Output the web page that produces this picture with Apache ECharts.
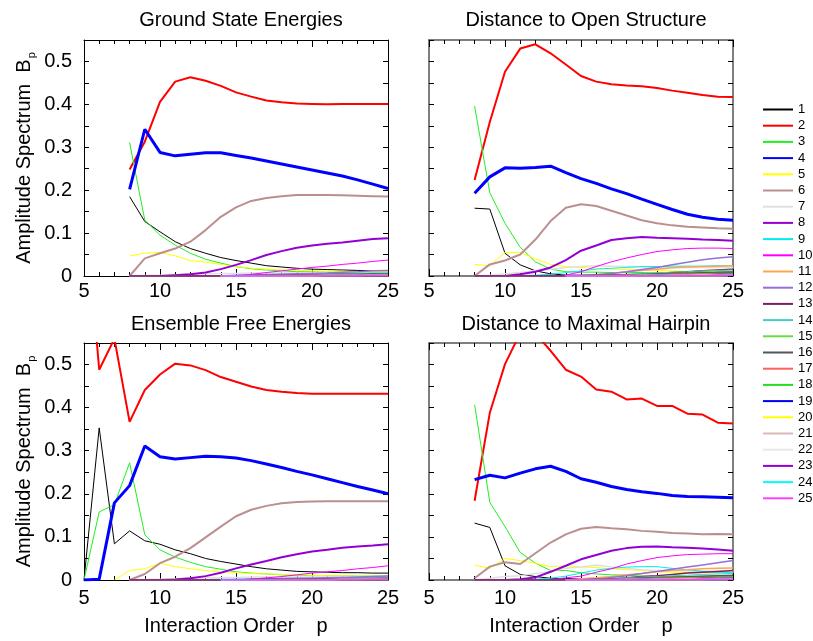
<!DOCTYPE html>
<html lang="en">
<head>
<meta charset="UTF-8">
<title>Amplitude Spectrum</title>
<style>
  body { margin: 0; background: #fff; }
  #chart { width: 813px; height: 641px; }
</style>
<script src="https://cdn.jsdelivr.net/npm/echarts@6/dist/echarts.min.js"></script>
</head>
<body>
<div id="chart"></div>
<script type="text/javascript">
// every row ends at p = 25; its first value sits at p = 25 - length + 1
var seriesNames = ['1','2','3','4','5','6','7','8','9','10','11','12','13','14','15','16','17','18','19','20','21','22','23','24','25'];
var panelTitles = ['Ground State Energies', 'Distance to Open Structure', 'Ensemble Free Energies', 'Distance to Maximal Hairpin'];

// Ground State Energies, p = 8..25 (rows 14-25 from p = 14)
var groundState = [
  [0.185,0.127,0.103,0.080,0.064,0.053,0.043,0.036,0.030,0.024,0.021,0.018,0.016,0.015,0.014,0.013,0.012,0.012],
  [0.248,0.313,0.406,0.453,0.463,0.455,0.443,0.428,0.418,0.409,0.405,0.402,0.401,0.400,0.401,0.401,0.401,0.401],
  [0.311,0.130,0.095,0.072,0.053,0.039,0.030,0.022,0.017,0.014,0.012,0.010,0.010,0.009,0.009,0.008,0.008,0.008],
  [0.202,0.342,0.288,0.280,0.284,0.287,0.287,0.281,0.275,0.268,0.261,0.254,0.247,0.240,0.233,0.224,0.214,0.204],
  [0.047,0.053,0.055,0.047,0.036,0.032,0.027,0.022,0.018,0.016,0.014,0.013,0.012,0.011,0.011,0.010,0.010,0.010],
  [0.000,0.041,0.053,0.064,0.080,0.107,0.138,0.160,0.175,0.182,0.186,0.189,0.189,0.189,0.188,0.187,0.186,0.185],
  [0,0.001,0.002,0.003,0.004,0.005,0.006,0.006,0.007,0.007,0.007,0.007,0.007,0.007,0.007,0.007,0.007,0.007],
  [0,0,0,0.002,0.004,0.008,0.016,0.026,0.037,0.049,0.058,0.066,0.071,0.075,0.078,0.082,0.086,0.088],
  [0,0,0,0,0,0.001,0.001,0.002,0.003,0.004,0.004,0.005,0.005,0.006,0.006,0.006,0.007,0.007],
  [0,0,0,0,0,0,0,0.001,0.004,0.008,0.012,0.016,0.020,0.023,0.027,0.030,0.034,0.037],
  [0,0,0,0,0,0,0,0,0.001,0.001,0.002,0.002,0.003,0.003,0.004,0.004,0.005,0.005],
  [0,0,0,0,0,0,0,0.001,0.002,0.003,0.004,0.005,0.006,0.007,0.009,0.010,0.012,0.013],
  [0,0,0,0,0,0,0,0,0.001,0.001,0.002,0.002,0.003,0.003,0.004,0.004,0.005,0.005],
  [0,0.001,0.001,0.002,0.002,0.003,0.003,0.004,0.004,0.005,0.005,0.006],
  [0,0,0.001,0.001,0.002,0.002,0.003,0.003,0.004,0.004,0.004,0.005],
  [0,0,0,0.001,0.001,0.002,0.002,0.003,0.003,0.003,0.004,0.004],
  [0,0,0,0.001,0.001,0.001,0.002,0.002,0.002,0.003,0.003,0.003],
  [0,0,0,0,0.001,0.001,0.001,0.002,0.002,0.002,0.003,0.003],
  [0,0,0,0,0,0.001,0.001,0.001,0.001,0.002,0.002,0.002],
  [0,0,0,0,0,0,0.001,0.001,0.001,0.001,0.002,0.002],
  [0,0,0,0,0,0,0,0.001,0.001,0.001,0.001,0.001],
  [0,0,0,0,0,0,0,0.001,0.001,0.001,0.001,0.001],
  [0,0,0,0,0,0,0,0,0.001,0.001,0.001,0.001],
  [0,0,0,0,0,0,0,0,0,0.001,0.001,0.001],
  [0,0,0,0,0,0,0,0,0,0,0.001,0.001]
];

// Distance to Open Structure, p = 8..25
var openStructure = [
  [0.158,0.156,0.053,0.026,0.012,0.005,0.002,0.002,0.002,0.002,0.002,0.003,0.003,0.003,0.004,0.004,0.005,0.005],
  [0.224,0.359,0.476,0.530,0.540,0.519,0.493,0.466,0.453,0.447,0.444,0.442,0.438,0.432,0.427,0.422,0.418,0.417],
  [0.396,0.194,0.123,0.067,0.033,0.016,0.010,0.009,0.009,0.008,0.008,0.008,0.007,0.007,0.007,0.006,0.006,0.006],
  [0.193,0.231,0.252,0.251,0.253,0.256,0.241,0.227,0.216,0.203,0.192,0.179,0.167,0.155,0.144,0.137,0.132,0.130],
  [0.027,0.024,0.055,0.055,0.040,0.027,0.022,0.020,0.018,0.016,0.015,0.014,0.013,0.012,0.011,0.011,0.010,0.010],
  [0.000,0.027,0.036,0.050,0.085,0.128,0.159,0.167,0.163,0.152,0.141,0.130,0.123,0.118,0.115,0.113,0.111,0.110],
  [0,0.002,0.005,0.008,0.012,0.016,0.020,0.022,0.024,0.023,0.022,0.021,0.021,0.020,0.020,0.020,0.020,0.020],
  [0,0,0,0.004,0.010,0.020,0.037,0.059,0.071,0.084,0.088,0.091,0.089,0.088,0.087,0.085,0.084,0.082],
  [0,0,0,0.001,0.002,0.004,0.008,0.012,0.016,0.018,0.020,0.022,0.022,0.023,0.023,0.023,0.024,0.024],
  [0,0,0,0,0,0,0.002,0.010,0.022,0.033,0.042,0.050,0.057,0.061,0.064,0.065,0.065,0.064],
  [0,0,0,0,0,0,0,0.001,0.003,0.006,0.010,0.013,0.016,0.019,0.021,0.022,0.023,0.024],
  [0,0,0,0,0,0,0,0.001,0.003,0.006,0.010,0.015,0.020,0.026,0.032,0.038,0.042,0.045],
  [0,0,0,0,0,0,0,0,0.001,0.002,0.003,0.004,0.006,0.008,0.010,0.012,0.014,0.016],
  [0,0.001,0.002,0.003,0.004,0.006,0.007,0.009,0.010,0.012,0.013,0.014],
  [0,0.001,0.001,0.002,0.003,0.004,0.005,0.006,0.007,0.008,0.009,0.010],
  [0,0,0.001,0.002,0.002,0.003,0.004,0.005,0.006,0.007,0.008,0.009],
  [0,0,0.001,0.001,0.002,0.002,0.003,0.004,0.004,0.005,0.006,0.006],
  [0,0,0,0.001,0.001,0.002,0.003,0.003,0.004,0.005,0.005,0.006],
  [0,0,0,0,0.001,0.001,0.002,0.002,0.003,0.003,0.004,0.004],
  [0,0,0,0,0.001,0.001,0.001,0.002,0.002,0.003,0.003,0.003],
  [0,0,0,0,0,0.001,0.001,0.001,0.002,0.002,0.002,0.003],
  [0,0,0,0,0,0.001,0.001,0.001,0.001,0.002,0.002,0.002],
  [0,0,0,0,0,0,0.001,0.001,0.001,0.001,0.002,0.002],
  [0,0,0,0,0,0,0,0.001,0.001,0.001,0.001,0.002],
  [0,0,0,0,0,0,0,0,0.001,0.001,0.001,0.001]
];

// Ensemble Free Energies, rows 1-4 from p = 5, row 5 from p = 7, rest from p = 8 / 14
var freeEnergy = [
  [0,0.353,0.084,0.114,0.091,0.083,0.070,0.061,0.050,0.043,0.037,0.031,0.026,0.023,0.020,0.019,0.018,0.017,0.017,0.016,0.016],
  [0.90,0.488,0.560,0.367,0.441,0.477,0.502,0.498,0.487,0.471,0.460,0.449,0.441,0.437,0.434,0.432,0.432,0.432,0.432,0.432,0.432],
  [0,0.158,0.175,0.272,0.105,0.070,0.053,0.041,0.031,0.025,0.019,0.016,0.014,0.012,0.011,0.010,0.010,0.010,0.009,0.009,0.009],
  [0,0.002,0.179,0.219,0.311,0.286,0.281,0.284,0.287,0.286,0.283,0.277,0.269,0.261,0.252,0.244,0.235,0.226,0.217,0.209,0.200],
  [0,0.022,0.026,0.039,0.031,0.026,0.022,0.019,0.017,0.015,0.014,0.013,0.012,0.011,0.010,0.010,0.009,0.009,0.009],
  [0,0.014,0.039,0.054,0.074,0.099,0.124,0.148,0.163,0.172,0.178,0.181,0.182,0.183,0.183,0.183,0.183,0.183],
  [0,0.001,0.002,0.003,0.004,0.005,0.006,0.006,0.007,0.007,0.007,0.007,0.007,0.007,0.007,0.007,0.007,0.007],
  [0,0,0,0.001,0.004,0.009,0.017,0.027,0.036,0.044,0.053,0.060,0.066,0.070,0.075,0.078,0.080,0.083],
  [0,0,0,0,0.001,0.001,0.002,0.002,0.003,0.003,0.004,0.004,0.004,0.005,0.005,0.005,0.005,0.006],
  [0,0,0,0,0,0,0,0,0.002,0.005,0.008,0.012,0.016,0.019,0.022,0.026,0.029,0.033],
  [0,0,0,0,0,0,0,0,0.001,0.001,0.001,0.002,0.002,0.003,0.003,0.003,0.004,0.004],
  [0,0,0,0,0,0,0,0.001,0.001,0.002,0.003,0.004,0.004,0.005,0.006,0.007,0.008,0.009],
  [0,0,0,0,0,0,0,0,0.001,0.001,0.001,0.002,0.002,0.002,0.003,0.003,0.003,0.004],
  [0,0.001,0.001,0.001,0.002,0.002,0.002,0.003,0.003,0.004,0.004,0.005],
  [0,0,0.001,0.001,0.001,0.002,0.002,0.002,0.003,0.003,0.003,0.004],
  [0,0,0,0.001,0.001,0.001,0.002,0.002,0.002,0.003,0.003,0.003],
  [0,0,0,0,0.001,0.001,0.001,0.001,0.002,0.002,0.002,0.002],
  [0,0,0,0,0,0.001,0.001,0.001,0.001,0.002,0.002,0.002],
  [0,0,0,0,0,0,0.001,0.001,0.001,0.001,0.001,0.002],
  [0,0,0,0,0,0,0,0.001,0.001,0.001,0.001,0.001],
  [0,0,0,0,0,0,0,0,0.001,0.001,0.001,0.001],
  [0,0,0,0,0,0,0,0,0.001,0.001,0.001,0.001],
  [0,0,0,0,0,0,0,0,0,0.001,0.001,0.001],
  [0,0,0,0,0,0,0,0,0,0.001,0.001,0.001],
  [0,0,0,0,0,0,0,0,0,0,0.001,0.001]
];

// Distance to Maximal Hairpin, p = 8..25
var hairpin = [
  [0.132,0.122,0.033,0.013,0.008,0.004,0.003,0.003,0.003,0.003,0.003,0.003,0.003,0.003,0.003,0.003,0.003,0.003],
  [0.184,0.388,0.501,0.573,0.572,0.532,0.488,0.472,0.442,0.437,0.419,0.421,0.404,0.404,0.386,0.384,0.365,0.363],
  [0.407,0.180,0.124,0.064,0.039,0.022,0.022,0.017,0.014,0.012,0.011,0.009,0.008,0.008,0.008,0.008,0.008,0.008],
  [0.233,0.243,0.237,0.248,0.258,0.264,0.252,0.235,0.227,0.217,0.210,0.205,0.201,0.196,0.194,0.193,0.192,0.191],
  [0.035,0.027,0.050,0.045,0.039,0.031,0.033,0.030,0.029,0.026,0.024,0.022,0.019,0.018,0.017,0.017,0.017,0.017],
  [0.004,0.031,0.041,0.037,0.062,0.087,0.106,0.119,0.123,0.120,0.118,0.114,0.112,0.109,0.108,0.106,0.107,0.106],
  [0,0.004,0.008,0.010,0.015,0.020,0.027,0.030,0.035,0.030,0.027,0.024,0.022,0.022,0.021,0.021,0.021,0.021],
  [0,0,0,0.002,0.006,0.019,0.033,0.048,0.058,0.068,0.074,0.077,0.078,0.076,0.075,0.073,0.071,0.068],
  [0,0,0,0,0.002,0.004,0.009,0.016,0.023,0.027,0.030,0.031,0.031,0.027,0.024,0.020,0.018,0.017],
  [0,0,0,0,0,0.001,0.005,0.009,0.018,0.026,0.037,0.045,0.052,0.056,0.059,0.060,0.061,0.061],
  [0,0,0,0,0,0,0,0.003,0.005,0.008,0.012,0.015,0.019,0.022,0.024,0.026,0.027,0.028],
  [0,0,0,0,0,0,0,0,0.002,0.006,0.010,0.015,0.020,0.025,0.030,0.035,0.040,0.045],
  [0,0,0,0,0,0,0,0,0,0.002,0.005,0.008,0.010,0.013,0.016,0.018,0.020,0.022],
  [0,0.001,0.002,0.004,0.005,0.007,0.008,0.010,0.011,0.013,0.014,0.015],
  [0,0.001,0.002,0.003,0.004,0.005,0.006,0.007,0.008,0.009,0.010,0.011],
  [0,0,0.001,0.002,0.003,0.004,0.005,0.006,0.007,0.008,0.009,0.010],
  [0,0,0.001,0.001,0.002,0.003,0.004,0.004,0.005,0.006,0.007,0.007],
  [0,0,0,0.001,0.002,0.002,0.003,0.004,0.005,0.005,0.006,0.007],
  [0,0,0,0.001,0.001,0.002,0.002,0.003,0.003,0.004,0.004,0.005],
  [0,0,0,0,0.001,0.001,0.002,0.002,0.003,0.003,0.003,0.004],
  [0,0,0,0,0.001,0.001,0.001,0.002,0.002,0.002,0.003,0.003],
  [0,0,0,0,0,0.001,0.001,0.001,0.002,0.002,0.002,0.003],
  [0,0,0,0,0,0.001,0.001,0.001,0.001,0.002,0.002,0.002],
  [0,0,0,0,0,0,0.001,0.001,0.001,0.001,0.002,0.002],
  [0,0,0,0,0,0,0,0.001,0.001,0.001,0.001,0.001]
];

var panels = [groundState, openStructure, freeEnergy, hairpin];

// gnuplot-ish line colours and widths for series 1..25
var lineColors = ['#000000','#ff0000','#22ee22','#0000ff','#ffff00','#bc8f8f','#e0e0e0','#9400d3','#00eeee','#ff00ff',
  '#ffa54f','#9370db','#7a1f5c','#40d0c8','#66dd44','#555555','#ff6060','#22dd22','#0000ee','#ffff00',
  '#d8b8b8','#e8e8e8','#9400d3','#00ffff','#ff40ff'];
var lineWidths = [1,2,1,3,1,2,1.5,2,1,1,1.5,1.5,1.5,1,1,2,1.5,1,1,1,2,1,1,1,1.5];

var gridBoxes = [
  {left: 84, top: 40, width: 304, height: 236},
  {left: 429, top: 40, width: 304, height: 236},
  {left: 84, top: 343, width: 304, height: 237},
  {left: 429, top: 343, width: 304, height: 237}
];

var FONT = 'Liberation Sans, Arial, sans-serif';

function toPoints(arr) {
  var start = 25 - arr.length + 1;
  return arr.map(function (v, i) { return [start + i, v]; });
}

var xAxes = [], yAxes = [], series = [], titles = [];
gridBoxes.forEach(function (box, g) {
  var frame = (g % 2 === 0) ? '#000' : '#555';
  var fw = (g % 2 === 0) ? 1 : 1.5;
  var bottomRow = g >= 2;
  ['bottom', 'top'].forEach(function (pos) {
    xAxes.push({
      gridIndex: g, type: 'value', min: 5, max: 25, interval: 5, position: pos,
      axisLine: {show: true, onZero: false, lineStyle: {color: frame, width: fw}},
      axisTick: {show: true, inside: true, length: 7, lineStyle: {color: '#000'}},
      minorTick: {show: true, splitNumber: 5, length: 4, lineStyle: {color: '#000'}},
      splitLine: {show: false},
      axisLabel: {show: pos === 'bottom', fontSize: 20, fontFamily: FONT, color: '#000', margin: bottomRow ? 8 : 5},
      name: (pos === 'bottom' && bottomRow) ? 'Interaction Order    p' : '',
      nameLocation: 'middle', nameGap: 36,
      nameTextStyle: {fontSize: 20, fontFamily: FONT, color: '#000'}
    });
  });
  ['left', 'right'].forEach(function (pos) {
    var labelled = pos === 'left' && g % 2 === 0;
    yAxes.push({
      gridIndex: g, type: 'value', min: 0, max: 0.55, interval: 0.05, position: pos,
      axisLine: {show: true, lineStyle: {color: frame, width: fw}},
      axisTick: {show: true, inside: true, length: 5, lineStyle: {color: '#000'}},
      splitLine: {show: false},
      axisLabel: {
        show: labelled, fontSize: 20, fontFamily: FONT, color: '#000', margin: 12,
        formatter: function (v) {
          var k = Math.round(v * 20);
          if (k % 2) return '';
          return k === 0 ? '0' : (k / 20).toFixed(1);
        }
      },
      name: labelled ? 'Amplitude Spectrum  B{s|p}' : '',
      nameLocation: 'middle', nameGap: 47, nameRotate: 90,
      nameTextStyle: {
        fontSize: 20, fontFamily: FONT, color: '#000',
        rich: {s: {fontSize: 11, fontFamily: FONT, color: '#000', padding: [14, 0, 0, 1]}}
      }
    });
  });
  titles.push({
    text: panelTitles[g], left: box.left + box.width / 2, top: bottomRow ? 309 : 5, textAlign: 'center',
    textStyle: {fontSize: 20, fontWeight: 'normal', fontFamily: FONT, color: '#000'}
  });
  panels[g].forEach(function (row, s) {
    series.push({
      name: seriesNames[s], type: 'line', xAxisIndex: 2 * g, yAxisIndex: 2 * g,
      data: toPoints(row), symbol: 'none', showSymbol: false, clip: true,
      color: lineColors[s],
      lineStyle: {color: lineColors[s], width: lineWidths[s]},
      emphasis: {disabled: true}
    });
  });
});

var chart = echarts.init(document.getElementById('chart'));
chart.setOption({
  animation: false,
  backgroundColor: '#fff',
  title: titles,
  grid: gridBoxes,
  xAxis: xAxes,
  yAxis: yAxes,
  legend: {
    orient: 'vertical', left: 757, top: 98,
    itemWidth: 30, itemHeight: 14, itemGap: 3.2,
    itemStyle: {opacity: 0},
    textStyle: {fontSize: 13, fontFamily: FONT, color: '#000'},
    data: seriesNames
  },
  series: series
});
</script>
</body>
</html>
